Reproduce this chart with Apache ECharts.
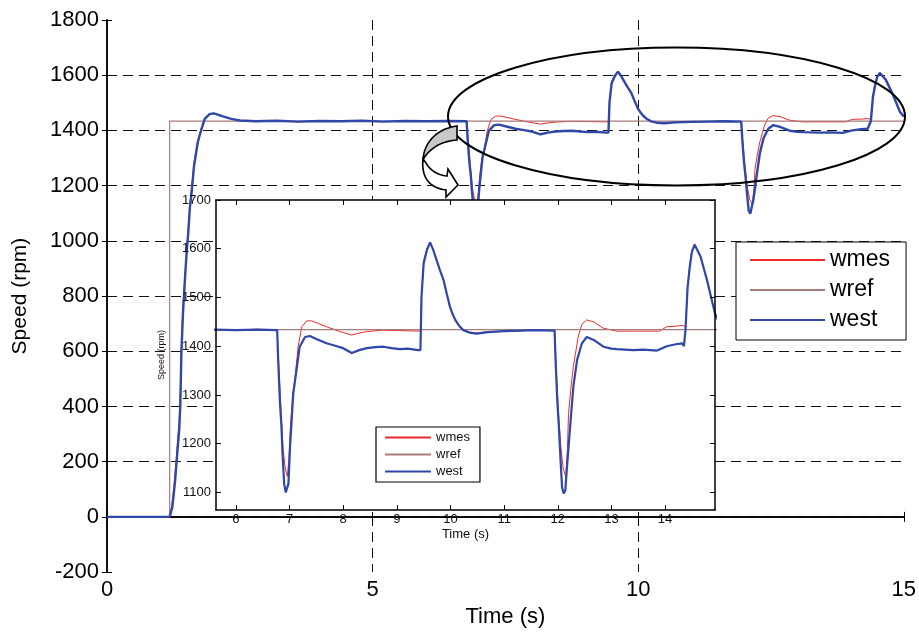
<!DOCTYPE html>
<html>
<head>
<meta charset="utf-8">
<script src="https://cdn.jsdelivr.net/npm/echarts@6/dist/echarts.min.js"></script>
<style>
  html, body { margin: 0; padding: 0; background: #fff; }
  #chart { width: 919px; height: 633px; }
</style>
</head>
<body>
<div id="chart"></div>
<script>
// Speed reference, measured speed and estimated speed (rpm) over time (s)
const wrefTime  = [0, 1.18, 1.18, 15];
const wrefSpeed = [0, 0, 1434, 1434];

const wmesTime = [
  0, 1.17, 1.22, 1.26, 1.30, 1.33, 1.36, 1.38, 1.40, 1.43, 1.47, 1.50, 1.53, 1.56, 1.59, 1.64, 1.71, 1.78, 1.84,
  1.93, 2.0, 2.06, 2.18, 2.34, 2.5, 2.8, 3.2, 3.6, 4.0, 4.4, 4.8, 5.2, 5.6, 6.0, 6.4, 6.77,
  6.78, 6.81, 6.85, 6.88, 6.92, 6.96, 6.99, 7.02, 7.06, 7.10, 7.16, 7.23, 7.32, 7.41, 7.55, 7.69, 7.94,
  8.16, 8.3, 8.44, 8.75, 9.06, 9.40, 9.44,
  9.46, 9.50, 9.56, 9.62, 9.68, 9.74, 9.80, 9.87, 9.93, 9.99, 10.04, 10.09, 10.16, 10.24, 10.35, 10.49,
  10.7, 11.0, 11.3, 11.6, 11.94,
  11.96, 11.99, 12.02, 12.06, 12.10, 12.15, 12.18, 12.20, 12.25, 12.29, 12.38, 12.45, 12.54, 12.60, 12.67,
  12.85, 13.10, 13.41, 13.9, 14.03, 14.2, 14.32, 14.35,
  14.38, 14.42, 14.46, 14.50, 14.55, 14.66, 14.78, 14.87, 14.93, 15.0
];
const wmesSpeed = [
  0, 0, 40, 110, 200, 280, 350, 450, 620, 760, 880, 970, 1050, 1130, 1190, 1285, 1365, 1410, 1444,
  1459, 1462, 1459, 1451, 1442, 1436, 1432, 1435, 1431, 1434, 1433, 1436, 1432, 1434, 1433, 1435, 1433,
  1432, 1340, 1250, 1190, 1150, 1133, 1170, 1240, 1300, 1331, 1399, 1440, 1452, 1452, 1446, 1440, 1430,
  1423, 1427, 1430, 1433, 1432, 1431, 1432,
  1505, 1575, 1600, 1614, 1598, 1578, 1556, 1535, 1506, 1480, 1464, 1452, 1441, 1433, 1429, 1427,
  1430, 1431, 1432, 1433, 1432,
  1380, 1310, 1250, 1190, 1150, 1132, 1190, 1262, 1320, 1358, 1419, 1445, 1454, 1452, 1450,
  1437, 1431, 1431, 1431, 1440, 1441, 1443, 1440,
  1440, 1525, 1566, 1596, 1610, 1586, 1538, 1496, 1466, 1449
];

const westTime = [
  0, 1.18, 1.23, 1.28, 1.31, 1.34, 1.36, 1.38, 1.40, 1.43, 1.47, 1.50, 1.53, 1.56, 1.59, 1.64, 1.71, 1.78, 1.84,
  1.93, 2.0, 2.06, 2.18, 2.34, 2.5, 2.8, 3.2, 3.6, 4.0, 4.4, 4.8, 5.2, 5.6, 6.0, 6.4, 6.77,
  6.79, 6.82, 6.85, 6.87, 6.90, 6.93, 6.96, 6.98, 7.01, 7.07, 7.13, 7.19, 7.29, 7.38, 7.5, 7.69, 7.85,
  8.0, 8.16, 8.3, 8.44, 8.6, 8.75, 8.9, 9.06, 9.2, 9.40, 9.44,
  9.46, 9.50, 9.56, 9.62, 9.68, 9.74, 9.80, 9.87, 9.93, 9.99, 10.04, 10.09, 10.16, 10.24, 10.35, 10.49,
  10.7, 11.0, 11.3, 11.6, 11.94,
  11.96, 11.99, 12.02, 12.05, 12.08, 12.11, 12.14, 12.17, 12.23, 12.29, 12.36, 12.45, 12.54, 12.67,
  12.85, 13.0, 13.10, 13.41, 13.6, 13.85, 14.03, 14.2, 14.32, 14.35,
  14.38, 14.42, 14.46, 14.50, 14.55, 14.66, 14.78, 14.87, 14.93, 15.0
];
const westSpeed = [
  0, 0, 36, 127, 199, 271, 319, 402, 593, 737, 870, 960, 1030, 1120, 1170, 1274, 1358, 1406, 1442,
  1459, 1462, 1459, 1451, 1442, 1436, 1433, 1435, 1432, 1434, 1433, 1435, 1432, 1434, 1433, 1434, 1433,
  1368, 1289, 1235, 1180, 1118, 1100, 1104, 1118, 1194, 1303, 1351, 1399, 1419, 1421, 1415, 1406, 1401,
  1396, 1386, 1392, 1396, 1398, 1399, 1396, 1394, 1395, 1392, 1392,
  1501, 1570, 1597, 1613, 1597, 1577, 1557, 1536, 1508, 1481, 1466, 1454, 1442, 1433, 1428, 1426,
  1429, 1431, 1432, 1433, 1432,
  1368, 1290, 1235, 1170, 1110, 1098, 1104, 1150, 1235, 1317, 1372, 1406, 1419, 1413,
  1399, 1395, 1394, 1392, 1393, 1391, 1400, 1404, 1406, 1400,
  1433, 1522, 1563, 1594, 1608, 1584, 1536, 1495, 1467, 1450
];

// Axis ticks
const mainXTicks  = [0, 5, 10, 15];
const mainYTicks  = [-200, 0, 200, 400, 600, 800, 1000, 1200, 1400, 1600, 1800];
const insetXTicks = [6, 7, 8, 9, 10, 11, 12, 13, 14];
const insetYTicks = [1100, 1200, 1300, 1400, 1500, 1600, 1700];

const seriesNames = ['wmes', 'wref', 'west'];
const colors = { wmes: '#ec2a2a', wref: '#a87a7a', west: '#2f47a8' };

const pairs = (xs, ys) => xs.map((x, i) => [x, ys[i]]);
const seriesData = {
  wmes: pairs(wmesTime, wmesSpeed),
  wref: pairs(wrefTime, wrefSpeed),
  west: pairs(westTime, westSpeed)
};
const mainWidths  = { wmes: 1, wref: 1.2, west: 2.4 };
const insetWidths = { wmes: 1, wref: 1.2, west: 2.2 };

const FONT = 'Liberation Sans, Arial, sans-serif';
const dash = { color: '#111', width: 1, type: [10, 6] };
const plain = v => String(v);

function buildSeries(axisIdx, z, widths) {
  return seriesNames.map(name => ({
    name,
    type: 'line',
    xAxisIndex: axisIdx,
    yAxisIndex: axisIdx,
    data: seriesData[name],
    showSymbol: false,
    symbol: 'none',
    animation: false,
    clip: true,
    z,
    color: colors[name],
    lineStyle: { color: colors[name], width: widths[name] },
    itemStyle: { color: colors[name] }
  }));
}

// Outline of a shape made of straight and cubic-bezier pieces, flattened to polygon points
function outline(start, pieces) {
  const pts = [start];
  let p0 = start;
  pieces.forEach(pc => {
    if (pc.length === 1) { pts.push(pc[0]); p0 = pc[0]; return; }
    const [c1, c2, p3] = pc;
    for (let i = 1; i <= 16; i++) {
      const t = i / 16, u = 1 - t;
      pts.push([
        u*u*u*p0[0] + 3*u*u*t*c1[0] + 3*u*t*t*c2[0] + t*t*t*p3[0],
        u*u*u*p0[1] + 3*u*u*t*c1[1] + 3*u*t*t*c2[1] + t*t*t*p3[1]
      ]);
    }
    p0 = p3;
  });
  return pts;
}

const arrowShaft = outline([423, 159], [
  [[421, 178], [430, 188], [446, 190]],
  [[446, 197]], [[458, 185]], [[448, 169]], [[447, 176]],
  [[437, 175], [430, 170], [426, 163]]
]);
const arrowBand = outline([457, 126], [
  [[440, 128], [424, 140], [423, 160]],
  [[428, 150], [440, 141], [457, 140]]
]);

const legendItems = seriesNames.map(name => ({ name, itemStyle: { color: colors[name] } }));

const chart = echarts.init(document.getElementById('chart'), null, { renderer: 'canvas' });

const option = {
  animation: false,
  backgroundColor: '#fff',
  textStyle: { fontFamily: FONT },
  grid: [
    { left: 107, top: 20, width: 799, height: 558, containLabel: false },
    { left: 216, top: 200, width: 499, height: 310, containLabel: false, show: true,
      backgroundColor: '#fff', borderWidth: 0, z: 10 }
  ],
  xAxis: [
    { gridIndex: 0, type: 'value', min: 0, max: 15, interval: 5, position: 'bottom',
      name: 'Time (s)', nameLocation: 'middle', nameGap: 33,
      nameTextStyle: { fontSize: 22, color: '#000', fontFamily: FONT },
      axisLine: { lineStyle: { color: '#000', width: 1.5 } },
      axisTick: { inside: true, length: 5, lineStyle: { color: '#000' } },
      axisLabel: { fontSize: 22, color: '#000', margin: 7, fontFamily: FONT,
        customValues: mainXTicks, formatter: plain },
      splitLine: { show: true, showMinLine: false, showMaxLine: false, lineStyle: dash } },
    { gridIndex: 0, type: 'value', min: 0, max: 15, interval: 5, position: 'top',
      axisLine: { lineStyle: { color: '#000', width: 1.5 } },
      axisTick: { inside: true, length: 5, lineStyle: { color: '#000' } },
      axisLabel: { show: false }, splitLine: { show: false } },
    { gridIndex: 1, type: 'value', min: 5.63, max: 14.93, position: 'bottom', z: 20,
      name: 'Time (s)', nameLocation: 'middle', nameGap: 18,
      nameTextStyle: { fontSize: 13, color: '#111', fontFamily: FONT },
      axisLine: { lineStyle: { color: '#000', width: 1.5 } },
      axisTick: { inside: true, length: 5, customValues: insetXTicks, lineStyle: { color: '#000' } },
      axisLabel: { fontSize: 13, color: '#111', margin: 3, fontFamily: FONT,
        customValues: insetXTicks, formatter: plain },
      splitLine: { show: false } },
    { gridIndex: 1, type: 'value', min: 5.63, max: 14.93, position: 'top', z: 20,
      axisLine: { lineStyle: { color: '#000', width: 1.5 } },
      axisTick: { inside: true, length: 5, customValues: insetXTicks, lineStyle: { color: '#000' } },
      axisLabel: { show: false }, splitLine: { show: false } }
  ],
  yAxis: [
    { gridIndex: 0, type: 'value', min: -200, max: 1800, interval: 200, position: 'left',
      name: 'Speed (rpm)', nameLocation: 'middle', nameGap: 76, nameRotate: 90,
      nameTextStyle: { fontSize: 21, color: '#000', fontFamily: FONT },
      axisLine: { lineStyle: { color: '#000', width: 1.5 } },
      axisTick: { inside: true, length: 5, lineStyle: { color: '#000' } },
      axisLabel: { fontSize: 22, color: '#000', margin: 8, fontFamily: FONT,
        customValues: mainYTicks, formatter: plain },
      splitLine: { show: true, showMinLine: false, showMaxLine: false, lineStyle: dash } },
    { gridIndex: 0, type: 'value', min: -200, max: 1800, interval: 200, position: 'right',
      axisLine: { show: true, lineStyle: { color: '#000', width: 1.5 } },
      axisTick: { show: true, inside: true, length: 5, lineStyle: { color: '#000' } },
      axisLabel: { show: false }, splitLine: { show: false } },
    { gridIndex: 1, type: 'value', min: 1064, max: 1700, position: 'left', z: 20,
      name: 'Speed (rpm)', nameLocation: 'middle', nameGap: 50, nameRotate: 90,
      nameTextStyle: { fontSize: 9, color: '#111', fontFamily: FONT },
      axisLine: { lineStyle: { color: '#000', width: 1.5 } },
      axisTick: { inside: true, length: 5, customValues: insetYTicks, lineStyle: { color: '#000' } },
      axisLabel: { fontSize: 13, color: '#111', margin: 5, fontFamily: FONT,
        customValues: insetYTicks, formatter: plain },
      splitLine: { show: false } },
    { gridIndex: 1, type: 'value', min: 1064, max: 1700, position: 'right', z: 20,
      axisLine: { show: true, lineStyle: { color: '#000', width: 1.5 } },
      axisTick: { show: true, inside: true, length: 5, customValues: insetYTicks, lineStyle: { color: '#000' } },
      axisLabel: { show: false }, splitLine: { show: false } }
  ],
  legend: [
    { data: legendItems, orient: 'vertical', left: 736, top: 242,
      icon: 'rect', itemWidth: 75, itemHeight: 2, itemGap: 6,
      padding: [6, 16, 8, 14],
      backgroundColor: '#fff', borderColor: '#000', borderWidth: 1, z: 30,
      selectedMode: false,
      textStyle: { fontSize: 23, lineHeight: 24, color: '#000', fontFamily: FONT } },
    { data: legendItems, orient: 'vertical', left: 376, top: 427,
      icon: 'rect', itemWidth: 46, itemHeight: 2, itemGap: 4,
      padding: [4, 10, 4, 9],
      backgroundColor: '#fff', borderColor: '#000', borderWidth: 1.2, z: 30,
      selectedMode: false,
      textStyle: { fontSize: 13, lineHeight: 13, color: '#111', fontFamily: FONT } }
  ],
  // zoom callout: ellipse round the disturbance region and a curved arrow pointing to the inset
  graphic: [
    { type: 'ellipse', z: 40, silent: true,
      shape: { cx: 676.5, cy: 116.5, rx: 228.5, ry: 69 },
      style: { fill: null, stroke: '#000', lineWidth: 2 } },
    { type: 'polygon', z: 40, silent: true,
      shape: { points: arrowShaft },
      style: { fill: '#fff', stroke: '#000', lineWidth: 1.6 } },
    { type: 'polygon', z: 41, silent: true,
      shape: { points: arrowBand },
      style: { fill: '#c8c8c8', stroke: '#000', lineWidth: 1.6 } }
  ],
  series: [].concat(buildSeries(0, 2, mainWidths), buildSeries(2, 15, insetWidths))
};

chart.setOption(option);
</script>
</body>
</html>
